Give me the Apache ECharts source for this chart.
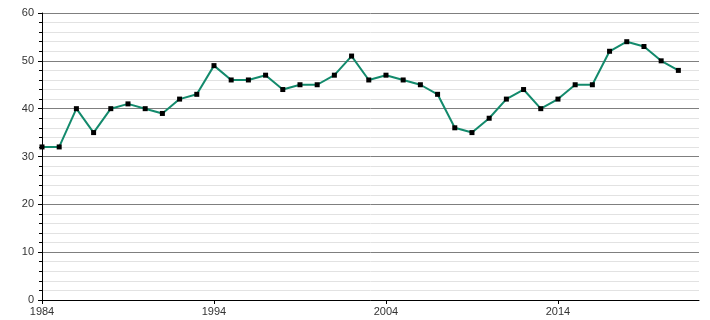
<!DOCTYPE html>
<html>
<head>
<meta charset="utf-8">
<script src="https://cdn.jsdelivr.net/npm/echarts@6/dist/echarts.min.js"></script>
<style>html,body{margin:0;padding:0;background:#fff}#c{width:710px;height:320px}</style>
</head>
<body>
<div id="c"></div>
<script>
const years = [1984,1985,1986,1987,1988,1989,1990,1991,1992,1993,1994,1995,1996,1997,1998,1999,2000,2001,2002,2003,2004,2005,2006,2007,2008,2009,2010,2011,2012,2013,2014,2015,2016,2017,2018,2019,2020,2021];
const values = [32,32,40,35,40,41,40,39,42,43,49,46,46,47,44,45,45,47,51,46,47,46,45,43,36,35,38,42,44,40,42,45,45,52,54,53,50,48];
const xTickLabels = [1984,1994,2004,2014];
const yTicks = [0,10,20,30,40,50,60];

const chart = echarts.init(document.getElementById('c'), null, {renderer:'canvas'});
chart.setOption({
  animation:false,
  backgroundColor:'#fff',
  grid:{left:42,right:11,top:13,bottom:20},
  xAxis:{
    type:'value', min:1984, max:2022.2,
    axisLine:{show:true,lineStyle:{color:'#000',width:1}},
    axisTick:{show:true,customValues:xTickLabels,length:4,lineStyle:{color:'#000'}},
    axisLabel:{customValues:xTickLabels,color:'#333',fontFamily:'Liberation Sans, Arial, sans-serif',fontSize:11,margin:6,formatter:v=>String(v)},
    splitLine:{show:false}
  },
  yAxis:{
    type:'value', min:yTicks[0], max:yTicks[yTicks.length-1], interval:10,
    axisLine:{show:true,lineStyle:{color:'#000',width:1}},
    axisTick:{show:true,length:4,lineStyle:{color:'#000'}},
    minorTick:{show:true,splitNumber:5,length:3,lineStyle:{color:'#000'}},
    axisLabel:{color:'#333',fontFamily:'Liberation Sans, Arial, sans-serif',fontSize:11,margin:8},
    splitLine:{show:true,lineStyle:{color:'#7f7f7f',width:1}},
    minorSplitLine:{show:true,lineStyle:{color:'#e2e2e2',width:1}}
  },
  series:[{
    type:'line',
    data:years.map((y,i)=>[y,values[i]]),
    lineStyle:{color:'#138a6c',width:2},
    itemStyle:{color:'#000'},
    symbol:'rect', symbolSize:5, showSymbol:true
  }]
});
</script>
</body>
</html>
